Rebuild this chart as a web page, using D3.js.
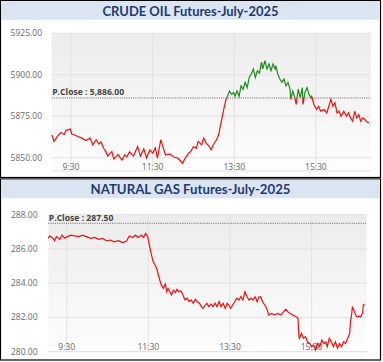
<!DOCTYPE html>
<html>
<head>
<meta charset="utf-8">
<script src="https://cdn.jsdelivr.net/npm/d3@7"></script>
<style>
body { margin: 0; background: #fff; }
svg { display: block; font-family: "Open Sans", sans-serif; }
</style>
</head>
<body>
<script>
// crude oil intraday (minute-ish samples)
var crudeTimes = ["9:02","9:05","9:10","9:15","9:20","9:23","9:29","9:31","9:36","9:40",
  "9:46","9:52","9:58","10:02","10:07","10:11","10:14","10:18","10:21","10:24",
  "10:27","10:30","10:33","10:36","10:39","10:42","10:45","10:49","10:52","10:56",
  "10:59","11:02","11:05","11:08","11:12","11:17","11:21","11:26","11:30","11:34",
  "11:37","11:42","11:45","11:49","11:55","12:01","12:07","12:11","12:14","12:18",
  "12:23","12:26","12:30","12:34","12:37","12:42","12:45","12:49","12:53","12:56",
  "12:59","13:04","13:07","13:10","13:12","13:15","13:18","13:20","13:23","13:26",
  "13:29","13:31","13:34","13:37","13:40","13:43","13:46","13:49","13:52","13:55",
  "13:58","14:01","14:04","14:07","14:10","14:12","14:15","14:18","14:21","14:24",
  "14:27","14:30","14:31","14:34","14:37","14:40","14:43","14:46","14:49","14:52",
  "14:53","14:56","14:59","15:01","15:04","15:07","15:10","15:11","15:14","15:17",
  "15:20","15:23","15:24","15:27","15:31","15:34","15:37","15:42","15:46","15:49",
  "15:52","15:55","15:58","16:01","16:04","16:07","16:11","16:15","16:18","16:21",
  "16:24","16:27","16:30","16:33","16:36","16:39","16:42","16:45","16:48"];
var crudeValues = [5863.8, 5859.8, 5862.8, 5865.2, 5864.0, 5866.5, 5867.3, 5864.3, 5863.5, 5862.8,
  5861.8, 5860.4, 5861.8, 5857.7, 5860.8, 5858.2, 5859.5, 5855.7, 5853.8, 5851.0,
  5852.5, 5853.7, 5849.2, 5850.5, 5852.0, 5850.2, 5848.6, 5851.8, 5850.4, 5853.5,
  5852.0, 5851.0, 5854.0, 5856.7, 5851.0, 5855.3, 5849.8, 5854.7, 5852.7, 5855.9,
  5849.8, 5860.8, 5856.7, 5851.6, 5852.3, 5850.4, 5849.8, 5848.0, 5846.6, 5849.8,
  5852.7, 5853.7, 5856.7, 5855.6, 5859.8, 5857.7, 5861.8, 5858.5, 5857.0, 5854.7,
  5857.7, 5860.8, 5863.8, 5870.0, 5874.0, 5880.0, 5885.2, 5887.0, 5890.2, 5888.2,
  5889.3, 5887.0, 5890.2, 5887.0, 5893.3, 5891.3, 5895.4, 5892.3, 5898.4, 5900.4,
  5903.5, 5898.4, 5902.4, 5901.0, 5907.6, 5903.5, 5908.5, 5903.5, 5906.5, 5902.4,
  5906.5, 5903.5, 5905.5, 5900.4, 5897.4, 5895.4, 5897.4, 5893.3, 5895.4, 5891.3,
  5885.2, 5890.2, 5886.2, 5882.1, 5891.3, 5886.2, 5892.3, 5882.1, 5889.5, 5892.3,
  5888.0, 5886.0, 5887.0, 5882.1, 5879.0, 5881.0, 5878.0, 5879.0, 5877.0, 5881.0,
  5885.2, 5881.0, 5883.2, 5877.0, 5878.0, 5875.0, 5878.0, 5875.0, 5877.0, 5874.0,
  5872.0, 5878.0, 5874.0, 5876.0, 5872.0, 5874.0, 5873.0, 5871.5, 5871.0];
var crudeYTicks = [5850, 5875, 5900, 5925];
var crudePrevClose = 5886;

// natural gas intraday
var gasTimes = ["9:03","9:05","9:10","9:12","9:15","9:20","9:23","9:27","9:31","9:36",
  "9:42","9:48","9:53","9:59","10:05","10:11","10:17","10:23","10:28","10:34",
  "10:40","10:46","10:52","10:58","11:02","11:07","11:11","11:15","11:20","11:23",
  "11:26","11:29","11:31","11:34","11:37","11:40","11:43","11:46","11:49","11:52",
  "11:55","11:57","11:59","12:04","12:07","12:10","12:12","12:15","12:18","12:21",
  "12:24","12:27","12:30","12:33","12:36","12:39","12:42","12:45","12:48","12:50",
  "12:53","12:56","12:59","13:02","13:05","13:08","13:11","13:14","13:17","13:20",
  "13:23","13:26","13:29","13:31","13:34","13:37","13:40","13:43","13:46","13:49",
  "13:52","13:55","13:58","14:01","14:04","14:07","14:10","14:12","14:15","14:18",
  "14:21","14:24","14:27","14:31","14:36","14:40","14:45","14:49","14:52","14:55",
  "14:58","15:02","15:07","15:10","15:11","15:12","15:15","15:18","15:21","15:24",
  "15:27","15:30","15:33","15:36","15:39","15:42","15:45","15:48","15:51","15:53",
  "15:56","15:59","16:02","16:05","16:08","16:11","16:14","16:17","16:20","16:23",
  "16:26","16:27","16:29","16:30","16:33","16:36","16:39","16:42","16:45","16:46",
  "16:48"];
var gasValues = [286.62, 286.76, 286.62, 286.48, 286.72, 286.56, 286.81, 286.62, 286.72, 286.81,
  286.76, 286.72, 286.81, 286.72, 286.62, 286.67, 286.56, 286.62, 286.48, 286.52,
  286.42, 286.48, 286.37, 286.46, 286.76, 286.67, 286.81, 286.67, 286.81, 286.67,
  286.91, 286.72, 286.33, 285.75, 285.26, 285.06, 284.77, 284.29, 283.90, 283.70,
  283.95, 283.50, 283.70, 283.31, 283.60, 283.45, 283.64, 283.50, 283.55, 283.30,
  283.02, 283.12, 282.92, 283.02, 282.83, 283.06, 282.92, 282.83, 282.63, 282.53,
  282.67, 282.83, 282.63, 282.78, 282.63, 282.83, 282.63, 282.92, 282.63, 282.83,
  282.53, 282.83, 282.67, 282.53, 282.73, 282.92, 283.12, 283.02, 283.21, 283.02,
  283.50, 283.21, 283.02, 283.12, 283.02, 283.21, 282.92, 283.18, 283.21, 282.92,
  282.73, 282.53, 282.14, 282.24, 282.14, 282.24, 282.14, 282.34, 282.48, 282.34,
  282.24, 282.14, 282.04, 281.95, 281.07, 280.78, 281.07, 280.78, 280.88, 280.58,
  280.48, 280.29, 280.39, 280.10, 280.48, 280.29, 280.68, 280.48, 280.58, 280.29,
  280.78, 280.58, 280.29, 280.58, 280.20, 280.48, 280.29, 280.58, 280.48, 280.78,
  281.07, 281.66, 282.24, 282.63, 282.34, 282.04, 282.08, 282.04, 282.24, 282.73,
  282.79];
var gasYTicks = [280, 282, 284, 286, 288];
var gasPrevClose = 287.5;

var xTickLabels = ["9:30", "11:30", "13:30", "15:30"];
var sessionStart = "9:00";
var sessionEnd = "16:51";

var parseTime = d3.timeParse("%H:%M");

var svg = d3.select("body")
  .append("svg")
  .attr("width", 383)
  .attr("height", 362);

var defs = svg.append("defs");
var grad = defs.append("linearGradient")
  .attr("id", "plotbg")
  .attr("x1", 0).attr("y1", 0).attr("x2", 0).attr("y2", 1);
grad.append("stop").attr("offset", "0%").attr("stop-color", "#ececec");
grad.append("stop").attr("offset", "100%").attr("stop-color", "#fdfdfd");

function drawPanel(p) {
  var g = svg.append("g");

  // frame + title band
  g.append("rect")
    .attr("x", 0.5).attr("y", p.top + 0.5)
    .attr("width", 380).attr("height", p.height)
    .attr("fill", "#fff").attr("stroke", "#000").attr("stroke-width", 1.2);
  g.append("rect")
    .attr("x", 1.2).attr("y", p.top + 1.2)
    .attr("width", 378.6).attr("height", 18.6)
    .attr("fill", "#dbe5f1");
  g.append("text")
    .attr("x", 190.5).attr("y", p.top + 15.5)
    .attr("text-anchor", "middle")
    .attr("textLength", p.titleWidth)
    .attr("lengthAdjust", "spacingAndGlyphs")
    .style("font-family", "Lato, 'Open Sans', sans-serif")
    .style("font-weight", "bold")
    .style("font-size", "14px")
    .attr("fill", "#1f3b6f")
    .text(p.title);

  var data = p.times.map(function (t, i) {
    return { t: parseTime(t), v: p.values[i] };
  });

  var x = d3.scaleTime()
    .domain([parseTime(sessionStart), parseTime(sessionEnd)])
    .range([p.x0, p.x1]);
  var y = d3.scaleLinear()
    .domain([d3.min(p.yTicks), d3.max(p.yTicks)])
    .range([p.yBottom, p.yTop]);

  // plot background
  g.append("rect")
    .attr("x", p.plotLeft).attr("y", p.yTop)
    .attr("width", p.x1 - p.plotLeft).attr("height", p.plotBottom - p.yTop)
    .attr("fill", "url(#plotbg)");
  g.append("line")
    .attr("x1", p.plotLeft).attr("x2", p.x1)
    .attr("y1", p.plotBottom).attr("y2", p.plotBottom)
    .attr("stroke", "#e2e2e2");

  // grid
  g.selectAll(".hgrid")
    .data(p.yTicks)
    .enter()
    .append("line")
    .attr("x1", p.plotLeft).attr("x2", p.x1)
    .attr("y1", function (d) { return y(d); })
    .attr("y2", function (d) { return y(d); })
    .attr("stroke", "#e2e2e2");
  g.selectAll(".vgrid")
    .data(xTickLabels)
    .enter()
    .append("line")
    .attr("x1", function (d) { return x(parseTime(d)); })
    .attr("x2", function (d) { return x(parseTime(d)); })
    .attr("y1", p.yTop).attr("y2", p.plotBottom)
    .attr("stroke", "#e2e2e2");

  // axis labels
  g.selectAll(".ylab")
    .data(p.yTicks)
    .enter()
    .append("text")
    .attr("x", p.yLabelX)
    .attr("y", function (d) { return y(d); })
    .attr("dy", "0.35em")
    .attr("text-anchor", "end")
    .style("font-size", "8.5px")
    .attr("fill", "#6a6a6a")
    .text(function (d) { return d3.format(".2f")(d); });
  g.selectAll(".xlab")
    .data(xTickLabels)
    .enter()
    .append("text")
    .attr("x", function (d) { return x(parseTime(d)); })
    .attr("y", p.xLabelY)
    .attr("text-anchor", "middle")
    .style("font-size", "8.5px")
    .attr("fill", "#6a6a6a")
    .text(function (d) { return d; });

  // previous close
  var pc = y(p.prevClose);
  g.append("line")
    .attr("x1", p.plotLeft).attr("x2", p.x1)
    .attr("y1", pc).attr("y2", pc)
    .attr("stroke", "#666")
    .attr("stroke-dasharray", "1,1.2");
  g.append("text")
    .attr("x", p.plotLeft + 0.5).attr("y", pc - 2.5)
    .style("font-size", "8.6px")
    .style("font-weight", "bold")
    .attr("fill", "#444")
    .text("P.Close : " + p.prevLabel);

  // price line: green above prev close, red below
  var clipUp = "up" + p.id, clipDn = "dn" + p.id;
  defs.append("clipPath").attr("id", clipUp)
    .append("rect")
    .attr("x", 0).attr("y", p.top)
    .attr("width", 383).attr("height", pc - p.top);
  defs.append("clipPath").attr("id", clipDn)
    .append("rect")
    .attr("x", 0).attr("y", pc)
    .attr("width", 383).attr("height", p.top + p.height - pc);

  var line = d3.line()
    .x(function (d) { return x(d.t); })
    .y(function (d) { return y(d.v); });

  g.append("path")
    .datum(data)
    .attr("d", line)
    .attr("fill", "none")
    .attr("stroke", "#ee1111")
    .attr("stroke-width", 1.2)
    .attr("clip-path", "url(#" + clipDn + ")");
  g.append("path")
    .datum(data)
    .attr("d", line)
    .attr("fill", "none")
    .attr("stroke", "#1e8a1e")
    .attr("stroke-width", 1.2)
    .attr("clip-path", "url(#" + clipUp + ")");
}

drawPanel({
  id: "crude", top: 0, height: 177,
  title: "CRUDE OIL Futures-July-2025", titleWidth: 176,
  times: crudeTimes, values: crudeValues, yTicks: crudeYTicks,
  prevClose: crudePrevClose, prevLabel: d3.format(",.2f")(crudePrevClose),
  x0: 50.6, x1: 371, plotLeft: 51.7,
  yTop: 33.3, yBottom: 157.7, plotBottom: 171,
  yLabelX: 42, xLabelY: 170
});

drawPanel({
  id: "gas", top: 178.5, height: 181,
  title: "NATURAL GAS Futures-July-2025", titleWidth: 200,
  times: gasTimes, values: gasValues, yTicks: gasYTicks,
  prevClose: gasPrevClose, prevLabel: d3.format(",.2f")(gasPrevClose),
  x0: 46.3, x1: 366.7, plotLeft: 48.3,
  yTop: 214.7, yBottom: 351.7, plotBottom: 351.7,
  yLabelX: 37.5, xLabelY: 350
});
</script>
</body>
</html>
